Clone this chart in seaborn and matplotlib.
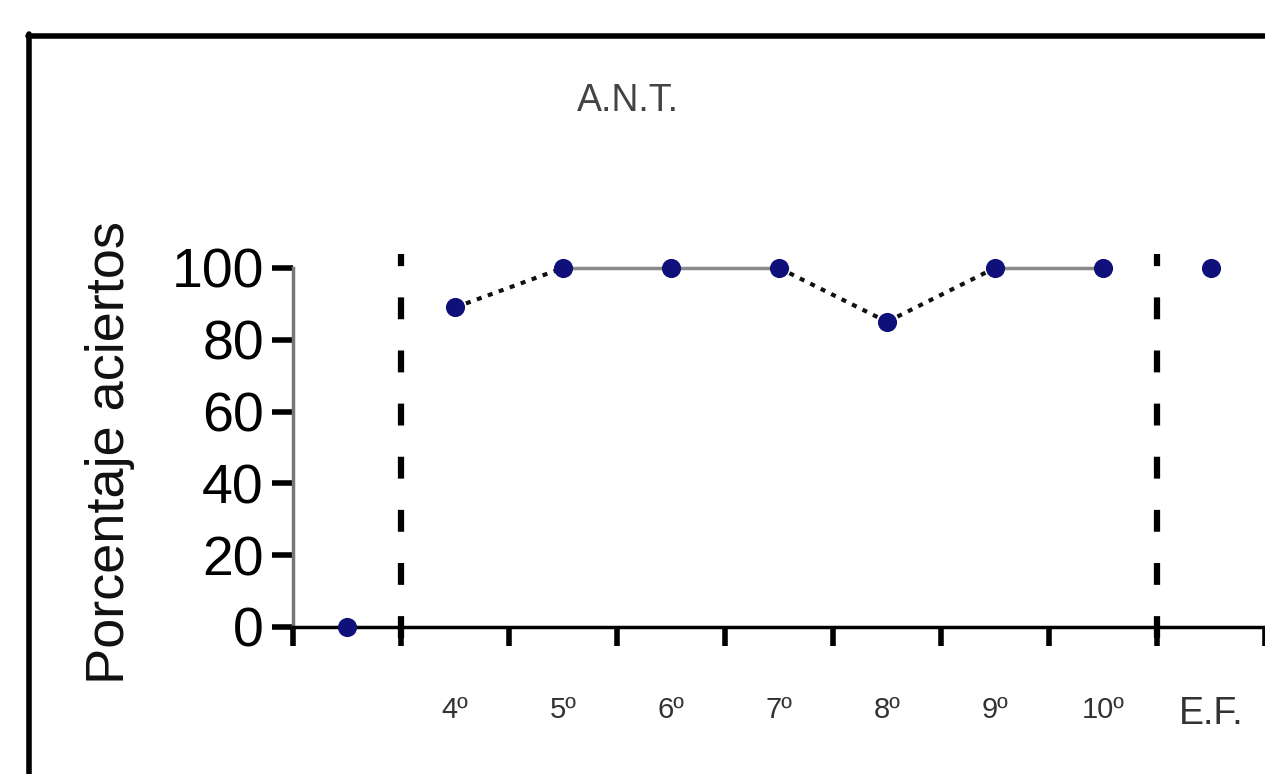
import matplotlib
matplotlib.use("Agg")
import matplotlib.pyplot as plt
from matplotlib.lines import Line2D
import seaborn as sns
import pandas as pd

# -----------------------------
# Data
# -----------------------------
sessions = ["", "4º", "5º", "6º", "7º", "8º", "9º", "10º", "E.F."]
phases = ["LB", "T", "T", "T", "T", "T", "T", "T", "EF"]
aciertos = [0, 89, 100, 100, 100, 85, 100, 100, 100]
phase_breaks = [0.5, 7.5]

df = pd.DataFrame({"pos": range(len(sessions)), "sesion": sessions,
                   "fase": phases, "aciertos": aciertos})

NAVY = "#10107a"

sns.set_style("white")
plt.rcParams["font.family"] = ["Liberation Sans", "DejaVu Sans"]

fig = plt.figure(figsize=(12.65, 7.74), dpi=100)
ax = fig.add_axes([0.2316, 0.19, 0.7684, 0.4638])

# -----------------------------
# Lines within each phase
# -----------------------------
for fase, grp in df.groupby("fase", sort=False):
    grp = grp.reset_index(drop=True)
    for i in range(len(grp) - 1):
        seg = grp.iloc[i:i + 2]
        flat = seg["aciertos"].iloc[0] == seg["aciertos"].iloc[1]
        sns.lineplot(data=seg, x="pos", y="aciertos", ax=ax,
                     color="#8a8a8a" if flat else "#111111",
                     linewidth=2.5 if flat else 3,
                     linestyle="-" if flat else (0, (1.2, 1.6)),
                     clip_on=False, zorder=2)

sns.scatterplot(data=df, x="pos", y="aciertos", ax=ax, color=NAVY,
                s=190, edgecolor=NAVY, linewidth=0, clip_on=False, zorder=3)

# Phase change lines
for b in phase_breaks:
    ax.axvline(b, ymin=-0.03, ymax=1.04, color="black", linewidth=4.5,
               linestyle=(0, (3.5, 5)), clip_on=False, zorder=1)

# -----------------------------
# Axes styling
# -----------------------------
ax.set_xlim(-0.5, len(sessions) - 0.5)
ax.set_ylim(0, 100)
ax.set_yticks(range(0, 101, 20))
ax.tick_params(axis="y", direction="out", length=15, width=4, color="black",
               labelsize=40, pad=6, left=True, labelcolor="black")
ax.set_xticks(range(len(sessions)))
ax.set_xticklabels(sessions)
ax.set_xticks([b - 0.5 for b in range(len(sessions) + 1)], minor=True)
ax.tick_params(axis="x", which="major", length=0, labelsize=21,
               pad=50, labelcolor="#333333")
ax.tick_params(axis="x", which="minor", direction="out", length=14,
               width=4, color="black", bottom=True)
for lbl in ax.get_xticklabels():
    if lbl.get_text() == "E.F.":
        lbl.set_fontsize(27)

sns.despine(ax=ax, top=True, right=True)
ax.spines["left"].set_color("#777777")
ax.spines["left"].set_linewidth(2.5)
ax.spines["bottom"].set_color("black")
ax.spines["bottom"].set_linewidth(2.5)
ax.set_xlabel("")
ax.set_ylabel("Porcentaje aciertos", fontsize=39, color="#111111")
ax.yaxis.set_label_coords(-0.163, 0.487)

fig.text(0.496, 0.87, "A.N.T.", fontsize=27, color="#444444",
         ha="center", va="center")

# Frame around the panel
fig.add_artist(Line2D([0.022, 1.0], [0.954, 0.954], color="black",
                      linewidth=4, transform=fig.transFigure))
fig.add_artist(Line2D([0.023, 0.023], [0.0, 0.956], color="black",
                      linewidth=4, transform=fig.transFigure))

fig.savefig("out.png", dpi=100)
plt.close(fig)
